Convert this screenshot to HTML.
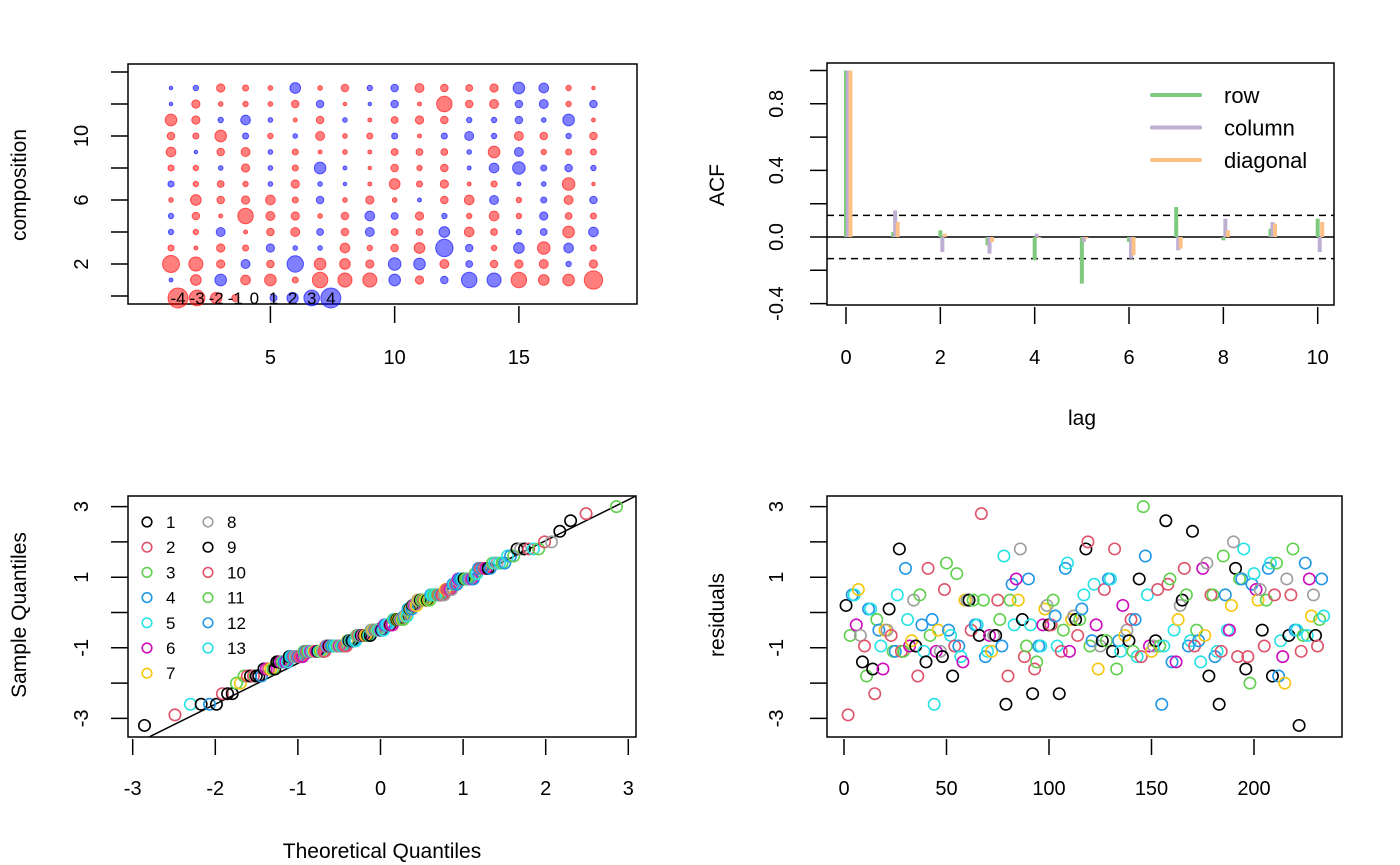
<!DOCTYPE html>
<html><head><meta charset="utf-8"><title>Residual diagnostics</title>
<style>
html,body{margin:0;padding:0;background:#fff;}
svg{display:block;font-family:"Liberation Sans",Arial,sans-serif;}
</style></head>
<body>
<svg id="fig" width="1400" height="865" viewBox="0 0 1400 865" xmlns="http://www.w3.org/2000/svg">
<rect width="1400" height="865" fill="#fff"/>
<g id="p1"></g>
<g id="p2"></g>
<g id="p3"></g>
<g id="p4"></g>
</svg>
<script>
// residual matrix, rows 1..13 (bottom to top), 18 columns
const row1  = [.2,-1.6,1.8,-1.4,-1.8,-.65,-2.6,-2.3,-2.3,1.8,-1.1,.95,2.6,2.3,-2.6,-1.6,-1.8,-3.2];
const row2  = [-2.9,-2.3,-1.1,1.25,-.95,2.8,-1.8,-1.6,-1.1,2.0,1.8,-1.25,.8,-.95,-1.1,-1.25,.5,-1.1];
const row3  = [-.65,-.2,-1.1,-.65,1.1,.35,.35,-1.4,-.5,-.95,-1.6,3.0,.95,-.5,1.6,-2.0,1.4,-.65];
const row4  = [.5,-.5,1.25,-.2,-.95,-1.25,.8,-.95,1.25,-.8,-.8,1.6,-1.4,-.8,.5,.8,-1.8,1.4];
const row5  = [.5,-.95,-.2,-2.6,-1.25,-1.1,-.35,-.95,1.4,.8,-1.1,.5,-.5,-1.4,-.5,1.1,-.8,-.65];
const row6  = [-.35,-1.6,-.95,-1.1,-1.4,-.65,.95,-.35,-1.1,-.35,.2,-.95,-1.4,1.25,-.5,.65,-1.25,.95];
const row7  = [.65,-.5,-.8,-.5,.35,-1.1,.35,.1,-.2,-1.6,-.65,-1.1,-.2,-.65,.2,.35,-2.0,-.1];
const row8  = [-.65,-.5,.35,-1.1,.35,-.65,1.8,.2,-.1,-.95,-.5,-.95,.2,1.4,2.0,.65,.95,.5];
const row9  = [-1.4,.1,-.95,-1.25,.35,-.65,-.2,-.35,-.2,-.8,-.8,-.8,.35,-1.8,1.25,-.5,-.65,-.65];
const row10 = [-.95,-.65,-1.8,.65,-.5,.35,-1.25,-.35,-.65,.65,-.2,.65,1.25,.5,-1.25,-.95,.5,-.95];
const row11 = [-1.8,-1.1,.5,1.4,.35,-.2,-.95,.35,-.2,-.8,-1.1,-.95,.5,.5,.95,.35,1.8,-.2];
const row12 = [.1,-1.1,-.35,-.5,-.35,-.95,.95,-.1,.1,.95,-.2,-2.6,-.95,-1.25,.95,1.25,-.5,.95];
const row13 = [.1,.5,-1.1,-.65,-.35,1.6,-.35,-.95,.5,.95,-1.25,-.95,-.8,-1.1,1.8,1.4,-.5,-.1];
const legendValues = [-4,-3,-2,-1,0,1,2,3,4];
// ACF
const lags = [0,1,2,3,4,5,6,7,8,9,10];
const acfRow = [1.0,.03,.04,-.05,-.14,-.28,-.03,.18,-.02,.05,.11];
const acfColumn = [1.0,.16,-.09,-.10,.02,-.03,-.13,-.08,.11,.09,-.09];
const acfDiagonal = [1.0,.09,.02,-.03,-.005,-.01,-.11,-.07,.04,.08,.09];
const acfBound = 0.13;
const acfYTicks = [-0.4,0.0,0.4,0.8];
const acfXTicks = [0,2,4,6,8,10];
const qqTicks = [-3,-2,-1,0,1,2,3];
const qqYTicks = [-3,-1,1,3];
const resXTicks = [0,50,100,150,200];
const p1XTicks = [5,10,15];
const p1YLabels = [2,6,10];

const rows = [row1,row2,row3,row4,row5,row6,row7,row8,row9,row10,row11,row12,row13];
const PAL = ["#000000","#DF536B","#61D04F","#2297E6","#28E2E5","#CD0BBC","#F5C710","#9E9E9E"];
const NS = "http://www.w3.org/2000/svg";
const TICK = 20, TITLE = 21;
function mk(parent, tag, attrs, text){
  const e = document.createElementNS(NS, tag);
  for (const k in attrs) e.setAttribute(k, attrs[k]);
  if (text !== undefined) e.textContent = text;
  parent.appendChild(e); return e;
}
function box(g,x0,y0,x1,y1){
  const r = mk(g,"rect",{x:x0,y:y0,width:x1-x0,height:y1-y0,fill:"none",stroke:"#000","stroke-width":1.5});
  
  
}
function txt(g,x,y,s,size,name,rot,anchor){
  const t = mk(g,"text",{x:x,y:y,"font-size":size,"text-anchor":anchor||"middle",fill:"#000"},s);
  if (rot) t.setAttribute("transform","rotate(-90 "+x+" "+y+")");
  
  
  return t;
}
function line(g,x1,y1,x2,y2,attrs,name){
  const a = Object.assign({x1:x1,y1:y1,x2:x2,y2:y2,stroke:"#000","stroke-width":1.5},attrs||{});
  const l = mk(g,"line",a);
  
  
  return l;
}
const bubbleR = v => 1.5 + 2.4*Math.abs(v);

// ---------- Panel 1: bubble ----------
(function(){
  const g = document.getElementById("p1");
  const X = v => 171 + (v-1)*24.85;
  const Y = v => 296 - v*16;
  box(g,128,64,637,304);
  rows.forEach((r,ri)=>{
    r.forEach((v,ci)=>{
      const pos = v>=0;
      const c = mk(g,"circle",{cx:X(ci+1),cy:Y(ri+1),r:bubbleR(v),
        fill:pos?"rgba(0,0,255,0.5)":"rgba(255,0,0,0.5)",stroke:pos?"rgba(0,0,255,0.6)":"rgba(255,0,0,0.6)","stroke-width":1});
      
      
    });
  });
  legendValues.forEach((v,i)=>{
    const cx = 178 + i*19.1;
    if (v!==0){
      const pos=v>0;
      const c = mk(g,"circle",{cx:cx,cy:298,r:bubbleR(v)*0.9,
        fill:pos?"rgba(0,0,255,0.5)":"rgba(255,0,0,0.5)",stroke:pos?"rgba(0,0,255,0.6)":"rgba(255,0,0,0.6)","stroke-width":1});
      
      
    }
    txt(g,cx,304,String(v),17,'size-legend-label');
  });
  for (let v=0; v<=14; v+=2) line(g,111,Y(v),128,Y(v),{},'y-tick');
  p1YLabels.forEach(v=>txt(g,88,Y(v),String(v),TICK,'y-tick-label',true));
  p1XTicks.forEach(v=>{ line(g,X(v),306,X(v),323,{},'x-tick'); txt(g,X(v),364,String(v),TICK,'x-tick-label'); });
  txt(g,26,185,"composition",TITLE,'y-axis-title',true);
})();

// ---------- Panel 2: ACF ----------
(function(){
  const g = document.getElementById("p2");
  const X = v => 846 + v*47.17;
  const Y = v => 237 - v*166.5;
  box(g,827,63,1334,305);
  line(g,827,Y(0),1334,Y(0),{},'zero-line');
  line(g,827,Y(acfBound),1334,Y(acfBound),{"stroke-dasharray":"7,5"},'upper-confidence-bound');
  line(g,827,Y(-acfBound),1334,Y(-acfBound),{"stroke-dasharray":"7,5"},'lower-confidence-bound');
  const series=[[acfRow,"#7FC97F",0,'row'],[acfColumn,"#BEAED4",2,'column'],[acfDiagonal,"#FDC086",4.5,'diagonal']];
  series.forEach(s=>{
    lags.forEach((l,i)=>{
      line(g,X(l)+s[2],Y(0),X(l)+s[2],Y(s[0][i]),{stroke:s[1],"stroke-width":4},'acf-'+s[3]+'-lag'+l);
    });
  });
  series.forEach((s,i)=>{
    const y=95+i*32.5;
    line(g,1152,y,1200,y,{stroke:s[1],"stroke-width":4,"stroke-linecap":"round"},'legend-swatch-'+s[3]);
    txt(g,1224,y+8,s[3],22,'legend-label-'+s[3],false,"start");
  });
  for (let v=-0.4; v<=1.001; v+=0.2) line(g,810,Y(v),827,Y(v),{},'y-tick');
  acfYTicks.forEach(v=>txt(g,783,Y(v),v.toFixed(1),TICK,'y-tick-label',true));
  acfXTicks.forEach(v=>{ line(g,X(v),307,X(v),324,{},'x-tick'); txt(g,X(v),364,String(v),TICK,'x-tick-label'); });
  txt(g,1082,425,"lag",TITLE,'x-axis-title');
  txt(g,724,185,"ACF",TITLE,'y-axis-title',true);
})();

// ---------- residual vector (column-major) ----------
const resid=[], group=[];
for (let c=0;c<18;c++) for (let r=0;r<13;r++){ resid.push(rows[r][c]); group.push(r); }

function qnorm(p){
  const a=[-39.69683028665376,220.9460984245205,-275.9285104469687,138.357751867269,-30.66479806614716,2.506628277459239];
  const b=[-54.47609879822406,161.5858368580409,-155.6989798598866,66.80131188771972,-13.28068155288572];
  const c=[-0.007784894002430293,-0.3223964580411365,-2.400758277161838,-2.549732539343734,4.374664141464968,2.938163982698783];
  const d=[0.007784695709041462,0.3224671290700398,2.445134137142996,3.754408661907416];
  let q,r;
  if(p<0.02425){q=Math.sqrt(-2*Math.log(p));return (((((c[0]*q+c[1])*q+c[2])*q+c[3])*q+c[4])*q+c[5])/((((d[0]*q+d[1])*q+d[2])*q+d[3])*q+1);}
  if(p>1-0.02425){q=Math.sqrt(-2*Math.log(1-p));return -(((((c[0]*q+c[1])*q+c[2])*q+c[3])*q+c[4])*q+c[5])/((((d[0]*q+d[1])*q+d[2])*q+d[3])*q+1);}
  q=p-0.5;r=q*q;return (((((a[0]*r+a[1])*r+a[2])*r+a[3])*r+a[4])*r+a[5])*q/(((((b[0]*r+b[1])*r+b[2])*r+b[3])*r+b[4])*r+1);
}
const YR = v => 612.5 - v*35.3;

// ---------- Panel 3: QQ ----------
(function(){
  const g = document.getElementById("p3");
  const X = v => 380.5 + v*82.6;
  const n = resid.length;
  const idx = resid.map((v,i)=>i).sort((a,b)=>resid[a]-resid[b]);
  const sorted = idx.map(i=>resid[i]);
  function quant(p){const h=(n-1)*p,lo=Math.floor(h);return sorted[lo]+(h-lo)*(sorted[Math.min(lo+1,n-1)]-sorted[lo]);}
  const y1=quant(.25),y2=quant(.75),x1=qnorm(.25),x2=qnorm(.75);
  const slope=(y2-y1)/(x2-x1), inter=y1-slope*x1;
  const xl=(128-380.5)/82.6, xr=(636-380.5)/82.6;
  const cp = mk(g,"clipPath",{id:"qqclip"}); mk(cp,"rect",{x:128,y:496,width:508,height:241});
  line(g,128,YR(inter+slope*xl),636,YR(inter+slope*xr),{"clip-path":"url(#qqclip)"},'qq-reference-line');
  idx.forEach((i,k)=>{
    const t=qnorm((k+0.5)/n);
    const c = mk(g,"circle",{cx:X(t),cy:YR(resid[i]),r:5.7,fill:"none",stroke:PAL[group[i]%8],"stroke-width":1.6});
    
    
  });
  box(g,128,496,636,737);
  for (let k=0;k<13;k++){
    const col=Math.floor(k/7), rr=k%7;
    const cx=147+col*61, cy=522+rr*25.2;
    const c = mk(g,"circle",{cx:cx,cy:cy,r:4.8,fill:"none",stroke:PAL[k%8],"stroke-width":1.6});
    
    
    txt(g,cx+19,cy+6,String(k+1),17,'legend-label',false,"start");
  }
  for (let v=-3; v<=3; v++) line(g,111,YR(v),128,YR(v),{},'y-tick');
  qqYTicks.forEach(v=>txt(g,88,YR(v),String(v),TICK,'y-tick-label',true));
  qqTicks.forEach(v=>{ line(g,X(v),739,X(v),755,{},'x-tick'); txt(g,X(v),795,String(v),TICK,'x-tick-label'); });
  txt(g,382,858,"Theoretical Quantiles",TITLE,'x-axis-title');
  txt(g,26,615,"Sample Quantiles",TITLE,'y-axis-title',true);
})();

// ---------- Panel 4: residuals ----------
(function(){
  const g = document.getElementById("p4");
  const X = v => 844 + v*2.05;
  box(g,827,496,1342,737);
  resid.forEach((v,i)=>{
    const c = mk(g,"circle",{cx:X(i+1),cy:YR(v),r:5.7,fill:"none",stroke:PAL[group[i]%8],"stroke-width":1.6});
    
    
  });
  for (let v=-3; v<=3; v++) line(g,810,YR(v),827,YR(v),{},'y-tick');
  qqYTicks.forEach(v=>txt(g,783,YR(v),String(v),TICK,'y-tick-label',true));
  resXTicks.forEach(v=>{ line(g,X(v),739,X(v),755,{},'x-tick'); txt(g,X(v),795,String(v),TICK,'x-tick-label'); });
  txt(g,724,615,"residuals",TITLE,'y-axis-title',true);
})();
</script>
</body></html>
